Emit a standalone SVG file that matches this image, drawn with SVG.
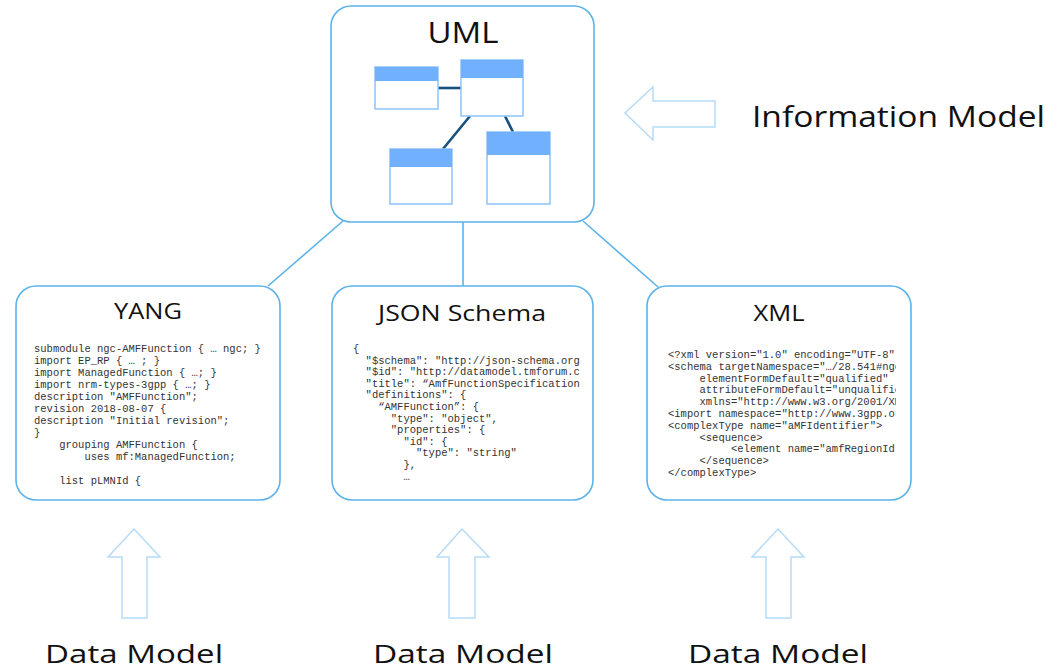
<svg xmlns="http://www.w3.org/2000/svg" width="1054" height="669" viewBox="0 0 1054 669">
<style>
.box{fill:#fff;stroke:#5cb3ea;stroke-width:1.6}
.conn{stroke:#5cb3ea;stroke-width:1.6;fill:none}
.cls{fill:#fff;stroke:#8fc3f7;stroke-width:1.5}
.hdr{fill:#70b0fc}
.assoc{stroke:#16507e;stroke-width:2.6}
.big{font-family:"Open Sans","DejaVu Sans",sans-serif;fill:#111}
.title{font-family:"Open Sans","DejaVu Sans",sans-serif;font-size:22px;fill:#111;text-anchor:middle}
.code{font-family:"Liberation Mono","Courier New",monospace;font-size:10.5px;fill:#333;white-space:pre}
.arrow{fill:none;stroke:#b6dbf7;stroke-width:1.5;stroke-linejoin:miter}
</style>
<defs>
<clipPath id="clipJson"><rect x="340" y="330" width="240" height="160"/></clipPath>
<clipPath id="clipXml"><rect x="655" y="330" width="241" height="160"/></clipPath>
</defs>
<rect width="1054" height="669" fill="#fff"/>
<g id="connectors">
<line class="conn" x1="343" y1="221" x2="268" y2="286"/>
<line class="conn" x1="463" y1="222" x2="463" y2="286"/>
<line class="conn" x1="583" y1="221" x2="658" y2="287"/>
</g>
<g id="uml">
<rect class="box" x="331" y="6" width="263" height="216" rx="20"/>
<text class="big" x="463" y="43" font-size="30" text-anchor="middle" textLength="71" lengthAdjust="spacingAndGlyphs">UML</text>
<line class="assoc" x1="438" y1="88" x2="461" y2="88"/>
<line class="assoc" x1="470" y1="116" x2="443" y2="149"/>
<line class="assoc" x1="505" y1="116" x2="513" y2="132"/>
<rect class="cls" x="375" y="67" width="63" height="42"/>
<rect class="hdr" x="375" y="67" width="63" height="14"/>
<rect class="cls" x="461" y="60" width="62" height="56"/>
<rect class="hdr" x="461" y="60" width="62" height="18"/>
<rect class="cls" x="390" y="149" width="62" height="55"/>
<rect class="hdr" x="390" y="149" width="62" height="18"/>
<rect class="cls" x="487" y="132" width="63" height="72"/>
<rect class="hdr" x="487" y="132" width="63" height="23"/>
</g>
<g id="yang">
<rect class="box" x="16" y="286" width="264" height="214" rx="20"/>
<text class="title" x="148" y="319" textLength="68" lengthAdjust="spacingAndGlyphs">YANG</text>
<text class="code" xml:space="preserve"><tspan x="34" y="352">submodule ngc-AMFFunction { … ngc; }</tspan><tspan x="34" y="364">import EP_RP { … ; }</tspan><tspan x="34" y="376">import ManagedFunction { …; }</tspan><tspan x="34" y="388">import nrm-types-3gpp { …; }</tspan><tspan x="34" y="400">description "AMFFunction";</tspan><tspan x="34" y="412">revision 2018-08-07 {</tspan><tspan x="34" y="424">description "Initial revision";</tspan><tspan x="34" y="436">}</tspan><tspan x="34" y="448">    grouping AMFFunction {</tspan><tspan x="34" y="460">        uses mf:ManagedFunction;</tspan><tspan x="34" y="484">    list pLMNId {</tspan></text>
</g>
<g id="json">
<rect class="box" x="332" y="286" width="261" height="214" rx="20"/>
<text class="title" x="462" y="321" textLength="168" lengthAdjust="spacingAndGlyphs">JSON Schema</text>
<text class="code" clip-path="url(#clipJson)" xml:space="preserve"><tspan x="353" y="352">{</tspan><tspan x="353" y="363.6">  "$schema": "http://json-schema.org</tspan><tspan x="353" y="375.2">  "$id": "http://datamodel.tmforum.c</tspan><tspan x="353" y="386.8">  "title": “AmfFunctionSpecification</tspan><tspan x="353" y="398.4">  "definitions": {</tspan><tspan x="353" y="410">    “AMFFunction”: {</tspan><tspan x="353" y="421.6">      "type": "object",</tspan><tspan x="353" y="433.2">      "properties": {</tspan><tspan x="353" y="444.8">        "id": {</tspan><tspan x="353" y="456.4">          "type": "string"</tspan><tspan x="353" y="468">        },</tspan><tspan x="353" y="479.6">        …</tspan></text>
</g>
<g id="xml">
<rect class="box" x="647" y="286" width="264" height="214" rx="20"/>
<text class="title" x="779" y="321" textLength="51" lengthAdjust="spacingAndGlyphs">XML</text>
<text class="code" clip-path="url(#clipXml)" xml:space="preserve"><tspan x="668" y="358">&lt;?xml version="1.0" encoding="UTF-8"</tspan><tspan x="668" y="369.8">&lt;schema targetNamespace="…/28.541#ngc</tspan><tspan x="668" y="381.6">     elementFormDefault="qualified"</tspan><tspan x="668" y="393.4">     attributeFormDefault="unqualified"</tspan><tspan x="668" y="405.2">     xmlns="http://www.w3.org/2001/XMLSchema"</tspan><tspan x="668" y="417">&lt;import namespace="http://www.3gpp.org"</tspan><tspan x="668" y="428.8">&lt;complexType name="aMFIdentifier"&gt;</tspan><tspan x="668" y="440.6">     &lt;sequence&gt;</tspan><tspan x="668" y="452.4">          &lt;element name="amfRegionId"</tspan><tspan x="668" y="464.2">     &lt;/sequence&gt;</tspan><tspan x="668" y="476">&lt;/complexType&gt;</tspan></text>
</g>
<g id="info-model">
<polygon class="arrow" points="625,113 653,87 653,101 715,101 715,127 653,127 653,140"/>
<text class="big" x="752" y="127" font-size="30" textLength="293" lengthAdjust="spacingAndGlyphs">Information Model</text>
</g>
<g id="data-model-1">
<polygon class="arrow" points="134,529 160,557 147,557 147,618 122,618 122,557 108,557"/>
<text class="big" x="45" y="663" font-size="26" textLength="178" lengthAdjust="spacingAndGlyphs">Data Model</text>
</g>
<g id="data-model-2">
<polygon class="arrow" points="462,529 489,557 475,557 475,618 449,618 449,557 437,557"/>
<text class="big" x="373" y="663" font-size="26" textLength="180" lengthAdjust="spacingAndGlyphs">Data Model</text>
</g>
<g id="data-model-3">
<polygon class="arrow" points="778,529 804,557 791,557 791,618 766,618 766,557 752,557"/>
<text class="big" x="688" y="663" font-size="26" textLength="180" lengthAdjust="spacingAndGlyphs">Data Model</text>
</g>
</svg>
